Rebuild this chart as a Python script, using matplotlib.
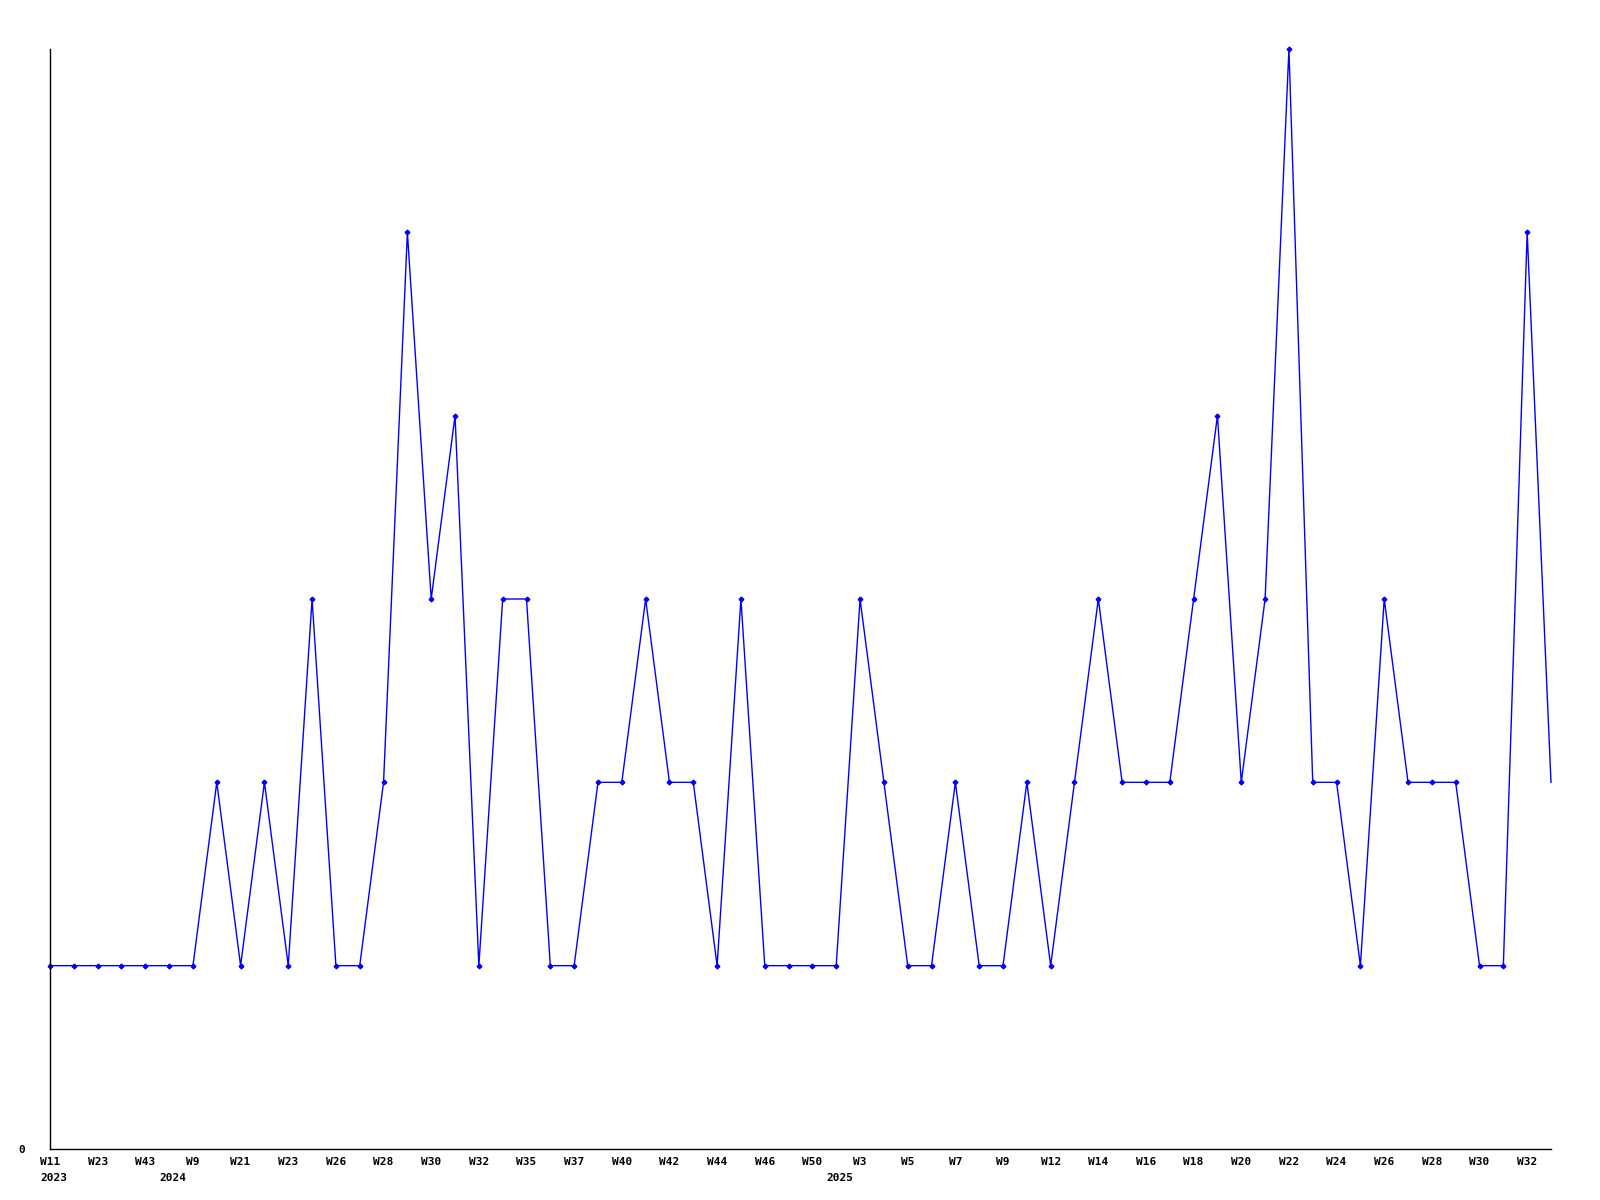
import matplotlib
matplotlib.use("Agg")
import matplotlib.pyplot as plt

# weekly counts, one point per week shown
values = [1, 1, 1, 1, 1, 1, 1, 2, 1, 2, 1, 3, 1, 1, 2, 5, 3, 4, 1, 3,
          3, 1, 1, 2, 2, 3, 2, 2, 1, 3, 1, 1, 1, 1, 3, 2, 1, 1, 2, 1,
          1, 2, 1, 2, 3, 2, 2, 2, 3, 4, 2, 3, 6, 2, 2, 1, 3, 2, 2, 2,
          1, 1, 5, 2]

# every other point gets a week label
week_labels = ["W11", "W23", "W43", "W9", "W21", "W23", "W26", "W28", "W30", "W32",
               "W35", "W37", "W40", "W42", "W44", "W46", "W50", "W3", "W5", "W7",
               "W9", "W12", "W14", "W16", "W18", "W20", "W22", "W24", "W26", "W28",
               "W30", "W32"]
years = ["2023", "2024", "2025"]
year_pos = [0, 5, 33]

font = {"family": "DejaVu Sans Mono", "weight": "bold", "size": 8}

fig = plt.figure(figsize=(16, 12), dpi=100)
ax = fig.add_axes([50 / 1600, 1 - 1149 / 1200, 1501 / 1600, 1100 / 1200])

x = list(range(len(values)))
ax.plot(x, values, color="#0000ff", lw=1.0, marker="P", ms=3,
        markevery=list(range(len(values) - 1)), clip_on=False)

ax.set_xlim(0, len(values) - 1)
ax.set_ylim(0, max(values))

ax.spines["top"].set_visible(False)
ax.spines["right"].set_visible(False)
ax.spines["left"].set_linewidth(1.0)
ax.spines["bottom"].set_linewidth(1.0)

ax.set_xticks(x[::2])
ax.set_xticklabels(week_labels, **font)
ax.set_yticks([0])
ax.set_yticklabels(["0"], **font)
ax.tick_params(axis="x", length=0, pad=5.5)
ax.tick_params(axis="y", length=0, pad=18)

for yr, p in zip(years, year_pos):
    ax.annotate(yr, xy=(p, 0), xycoords="data", xytext=(-7, -17.5),
                textcoords="offset points", ha="left", va="top", **font)

fig.savefig("out.png", dpi=100)
